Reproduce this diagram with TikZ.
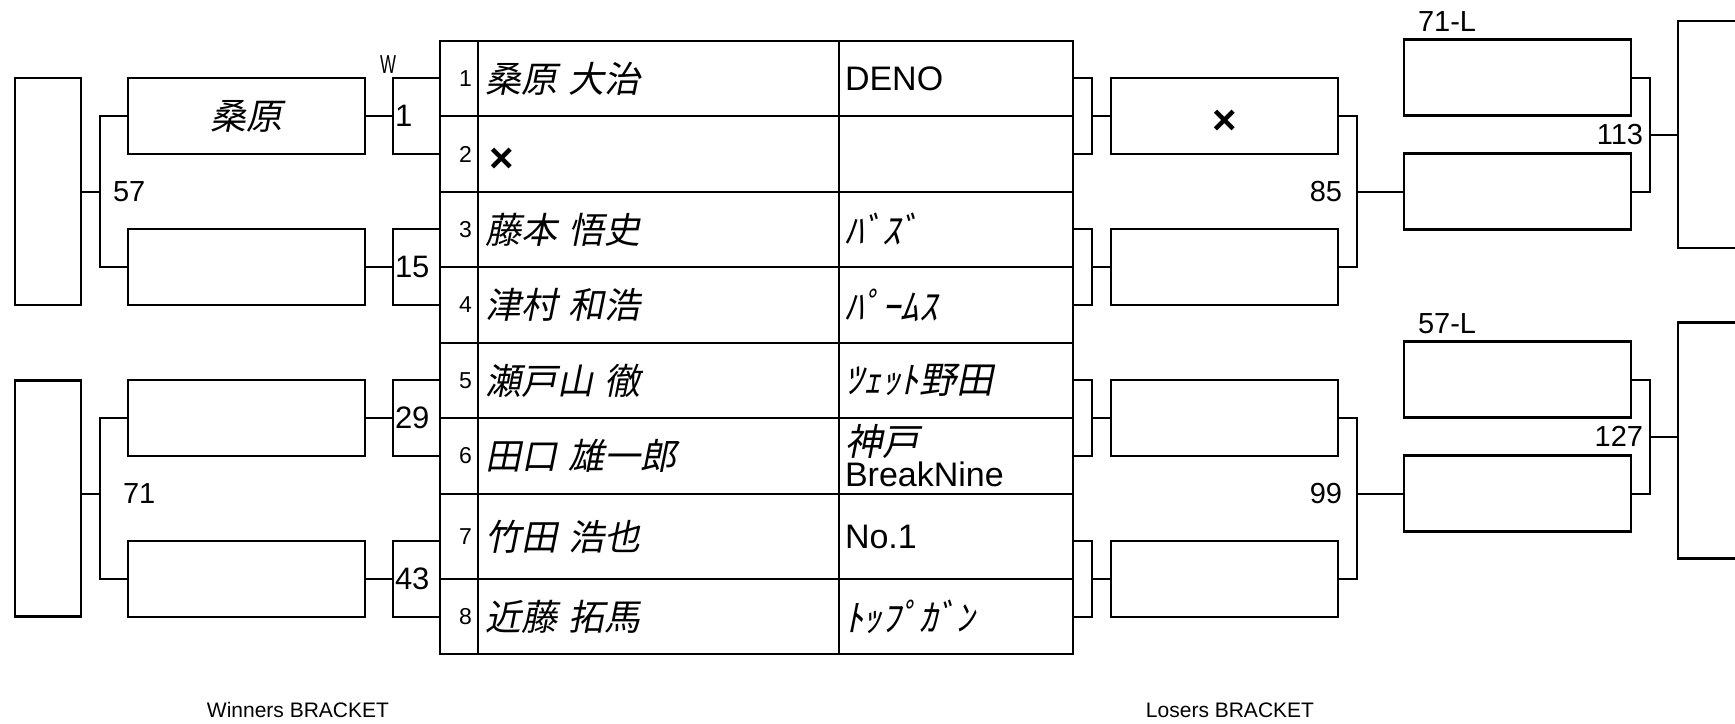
\documentclass[tikz,border=0pt]{standalone}
\usepackage{fontspec}
\setmainfont{Liberation Sans}
\newfontfamily\jpit[FakeSlant=0.2]{Noto Sans CJK JP}
\newfontfamily\narrowsf[FakeStretch=0.65]{Liberation Sans}
\newcommand\kana{\jpit\fontsize{37}{37}\selectfont}
\newcommand\cross{\raisebox{-18pt}[0pt][0pt]{\bfseries\fontsize{42}{42}\selectfont ×}}
\usepackage{tikz}
\usetikzlibrary{positioning,calc}
\tikzstyle{cell} = [draw,line width=2.4pt,inner sep=0pt,outer sep=0pt,anchor=north west]
\tikzstyle{slot} = [draw,line width=2.4pt,inner sep=0pt,outer sep=0pt,minimum height=76pt]
\tikzstyle{seedbox} = [slot,minimum width=47pt,inner xsep=2pt,text width=43pt,align=left,font=\fontsize{31}{31}\selectfont]
\tikzstyle{endbox} = [draw,line width=2.4pt,inner sep=0pt,outer sep=0pt,minimum width=66pt]
\tikzstyle{conn} = [line width=2pt]
\tikzstyle{tag} = [inner sep=0pt,outer sep=0pt,font=\fontsize{29}{29}\selectfont]

\begin{document}
\begin{tikzpicture}[x=1pt,y=-1pt]
	\useasboundingbox (0,0) rectangle (1735,723);
	%Table
	\foreach \i/\ypos/\hgt/\who/\club in {
		1/41/75/{桑原 大治}/DENO,
		2/116/76/{\rmfamily\hspace*{4pt}\cross}/{},
		3/192/75/{藤本 悟史}/{\kana ﾊﾞｽﾞ},
		4/267/76/{津村 和浩}/{\kana ﾊﾟｰﾑｽ},
		5/343/75/{瀬戸山 徹}/{\kana ﾂｪｯﾄ野田},
		6/418/76/{田口 雄一郎}/{{\kana 神戸}\\BreakNine},
		7/494/85/{竹田 浩也}/No.1,
		8/579/75/{近藤 拓馬}/{\kana ﾄｯﾌﾟｶﾞﾝ}}{
		\node[cell,minimum height=\hgt pt,inner xsep=6pt,text width=26pt,align=right,font=\fontsize{23}{23}\selectfont] (no\i) at (440,\ypos) {\i};
		\node[cell,minimum height=\hgt pt,inner xsep=7pt,text width=347pt,align=left,font=\jpit\fontsize{36}{36}\selectfont,right=0pt of no\i] (pl\i) {\who};
		\node[cell,minimum height=\hgt pt,inner xsep=6pt,text width=222pt,align=left,font=\fontsize{34}{31}\selectfont,right=0pt of pl\i] (cl\i) {\club};
	}

	%Winners side
	\node[seedbox,anchor=east] (ws1) at (no1.south west) {1};
	\node[seedbox,anchor=east] (ws2) at (no3.south west) {15};
	\node[seedbox,anchor=east] (ws3) at (no5.south west) {29};
	\node[seedbox,anchor=east] (ws4) at (no7.south west) {43};
	\node[tag,anchor=south,font=\narrowsf\fontsize{26}{26}\selectfont] (wmark) at ($(ws1.north west)+(-5pt,5pt)$) {W};

	\node[slot,minimum width=237pt,left=28pt of ws1,font=\jpit\fontsize{36}{36}\selectfont] (wr1) {桑原};
	\node[slot,minimum width=237pt,left=28pt of ws2] (wr2) {};
	\node[slot,minimum width=237pt,left=28pt of ws3] (wr3) {};
	\node[slot,minimum width=237pt,left=28pt of ws4] (wr4) {};

	\coordinate (wj57) at ($(wr1.west)!.5!(wr2.west)+(-28pt,0)$);
	\coordinate (wj71) at ($(wr3.west)!.47!(wr4.west)+(-28pt,0)$);
	\node[endbox,minimum height=227pt,left=19pt of wj57] (wf1) {};
	\node[endbox,minimum height=236pt,left=19pt of wj71,yshift=-5pt] (wf2) {};
	\node[tag,right=13pt of wj57] (n57) {57};
	\node[tag,right=23pt of wj71] (n71) {71};

	%Losers side
	\node[slot,minimum width=19pt,anchor=west] (ls1) at (cl1.south east) {};
	\node[slot,minimum width=19pt,anchor=west] (ls2) at (cl3.south east) {};
	\node[slot,minimum width=19pt,anchor=west] (ls3) at (cl5.south east) {};
	\node[slot,minimum width=19pt,anchor=west] (ls4) at (cl7.south east) {};

	\node[slot,minimum width=227pt,right=19pt of ls1] (lr1) {\cross};
	\node[slot,minimum width=227pt,right=19pt of ls2] (lr2) {};
	\node[slot,minimum width=227pt,right=19pt of ls3] (lr3) {};
	\node[slot,minimum width=227pt,right=19pt of ls4] (lr4) {};

	\coordinate (lj85) at ($(lr1.east)!.5!(lr2.east)+(19pt,0)$);
	\coordinate (lj99) at ($(lr3.east)!.47!(lr4.east)+(19pt,0)$);
	\node[tag,left=15pt of lj85] (n85) {85};
	\node[tag,left=15pt of lj99] (n99) {99};

	\node[slot,minimum width=227pt,right=47pt of lj85] (lr5) {};
	\node[slot,minimum width=227pt,above=38pt of lr5] (lr6) {};
	\node[slot,minimum width=227pt,right=47pt of lj99] (lr7) {};
	\node[slot,minimum width=227pt,above=38pt of lr7] (lr8) {};
	\node[tag,anchor=base west] (t71) at ($(lr6.north west)+(14pt,8pt)$) {71-L};
	\node[tag,anchor=base west] (t57) at ($(lr8.north west)+(14pt,8pt)$) {57-L};

	\coordinate (lj113) at ($(lr6.east)!.5!(lr5.east)+(19pt,0)$);
	\coordinate (lj127) at ($(lr8.east)!.5!(lr7.east)+(19pt,0)$);
	\node[tag,left=7pt of lj113] (n113) {113};
	\node[tag,left=7pt of lj127] (n127) {127};
	\node[endbox,minimum height=227pt,right=28pt of lj113] (lf1) {};
	\node[endbox,minimum height=236pt,right=28pt of lj127,yshift=-4pt] (lf2) {};

	\node[tag,anchor=base,font=\fontsize{21}{21}\selectfont] (wlabel) at (298,717) {Winners BRACKET};
	\node[tag,anchor=base,font=\fontsize{21}{21}\selectfont] (llabel) at (1230,717) {Losers BRACKET};

	%Lines
	\draw[conn] (wr1) -- (ws1);
	\draw[conn] (wr2) -- (ws2);
	\draw[conn] (wr3) -- (ws3);
	\draw[conn] (wr4) -- (ws4);
	\draw[conn] (wr1.west) -| (wj57) |- (wr2.west);
	\draw[conn] (wr3.west) -| (wj71) |- (wr4.west);
	\draw[conn] (wj57) -- (wj57 -| wf1.east);
	\draw[conn] (wj71) -- (wj71 -| wf2.east);

	\draw[conn] (ls1) -- (lr1);
	\draw[conn] (ls2) -- (lr2);
	\draw[conn] (ls3) -- (lr3);
	\draw[conn] (ls4) -- (lr4);
	\draw[conn] (lr1.east) -| (lj85) |- (lr2.east);
	\draw[conn] (lr3.east) -| (lj99) |- (lr4.east);
	\draw[conn] (lj85) -- (lj85 -| lr5.west);
	\draw[conn] (lj99) -- (lj99 -| lr7.west);
	\draw[conn] (lr6.east) -| (lj113) |- (lr5.east);
	\draw[conn] (lr8.east) -| (lj127) |- (lr7.east);
	\draw[conn] (lj113) -- (lj113 -| lf1.west);
	\draw[conn] (lj127) -- (lj127 -| lf2.west);
\end{tikzpicture}
\end{document}
